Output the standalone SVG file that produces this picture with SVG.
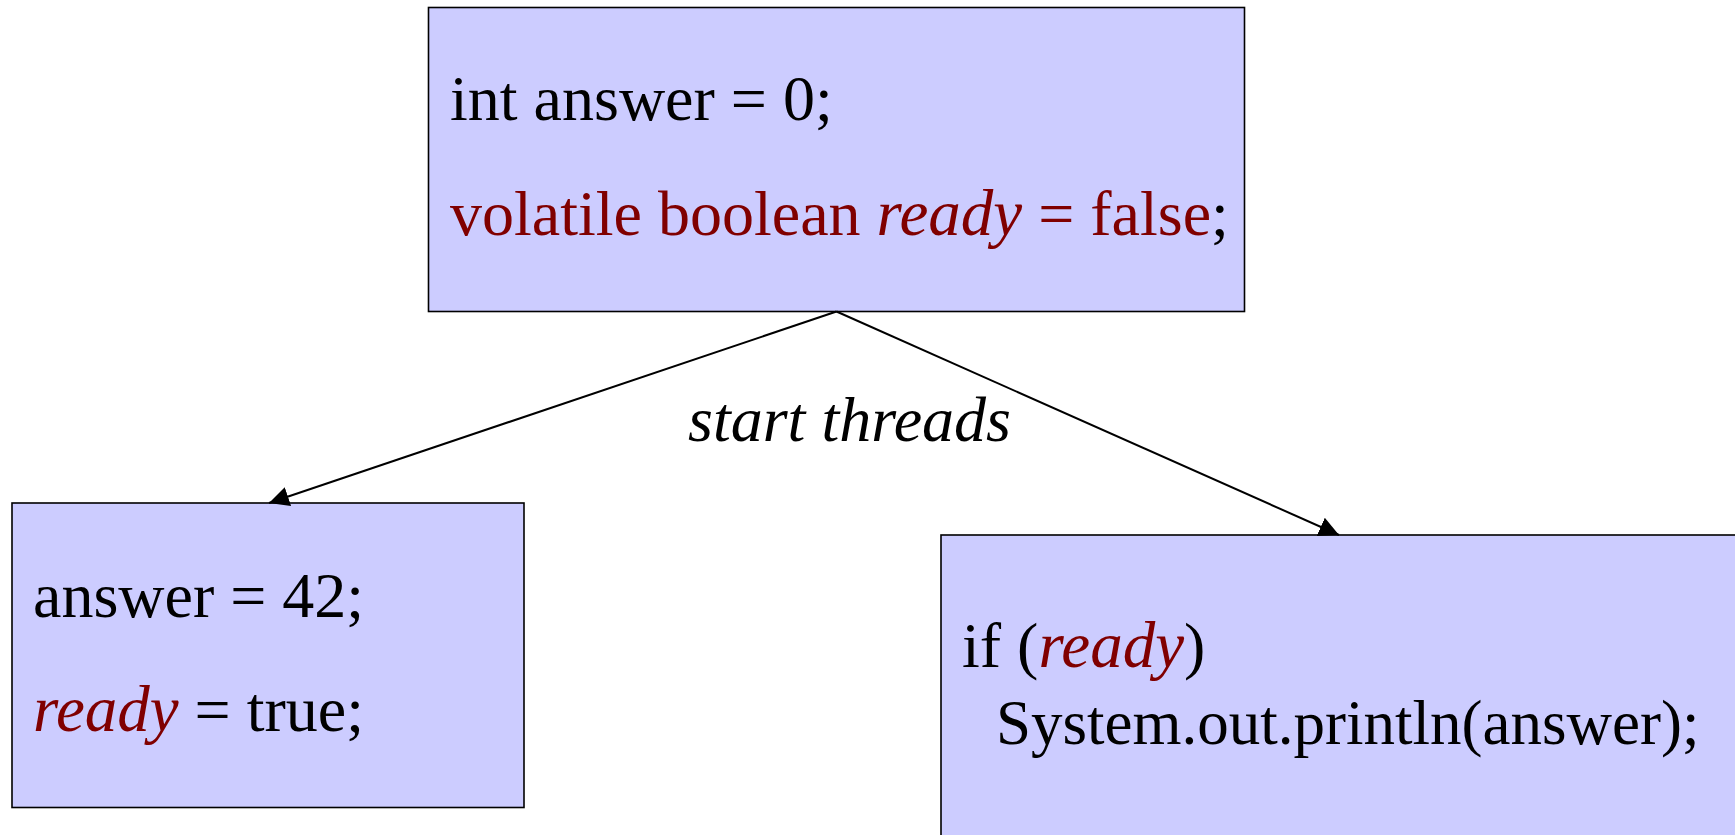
<svg xmlns="http://www.w3.org/2000/svg" width="1735" height="835" viewBox="0 0 1735 835">
  <style>
    .box { fill: #ccccff; stroke: #000000; stroke-width: 1.6; }
    .code { font-family: "Liberation Serif", "Times New Roman", serif; font-size: 64px; fill: #000000; }
    .narrow { font-size: 63px; }
    .kw { fill: #800000; }
    .var { fill: #800000; font-style: italic; font-size: 65px; }
    .edge { stroke: #000000; stroke-width: 2; fill: none; }
    .label { font-family: "Liberation Serif", "Times New Roman", serif; font-size: 64px; font-style: italic; fill: #000000; }
  </style>
  <defs>
    <marker id="arrow" markerUnits="userSpaceOnUse" markerWidth="20" markerHeight="20" refX="20" refY="10" orient="auto">
      <path d="M0,0 L20,10 L0,20 z" fill="#000000"/>
    </marker>
  </defs>

  <rect x="0" y="0" width="1735" height="835" fill="#ffffff"/>

  <!-- shared state -->
  <g id="node-shared">
    <rect class="box" x="428.5" y="7.5" width="816" height="304"/>
    <text class="code" x="450" y="120">int answer = 0;</text>
    <text class="code" x="450" y="235"><tspan class="kw">volatile boolean </tspan><tspan class="var">ready</tspan><tspan class="kw"> = false</tspan>;</text>
  </g>

  <!-- writer thread -->
  <g id="node-writer">
    <rect class="box" x="12" y="503" width="512" height="304.5"/>
    <text class="code" x="33" y="617">answer = 42;</text>
    <text class="code" x="33" y="731"><tspan class="var">ready</tspan> = true;</text>
  </g>

  <!-- reader thread -->
  <g id="node-reader">
    <rect class="box" x="941" y="535" width="800" height="310"/>
    <text class="code" x="962" y="667">if (<tspan class="var">ready</tspan>)</text>
    <text class="code narrow" x="996" y="744">System.out.println(answer);</text>
  </g>

  <!-- connectors -->
  <g id="connectors">
    <line class="edge" x1="836.5" y1="311.5" x2="269" y2="503" marker-end="url(#arrow)"/>
    <line class="edge" x1="836.5" y1="311.5" x2="1339" y2="535" marker-end="url(#arrow)"/>
    <text class="label" x="688" y="441">start threads</text>
  </g>
</svg>
